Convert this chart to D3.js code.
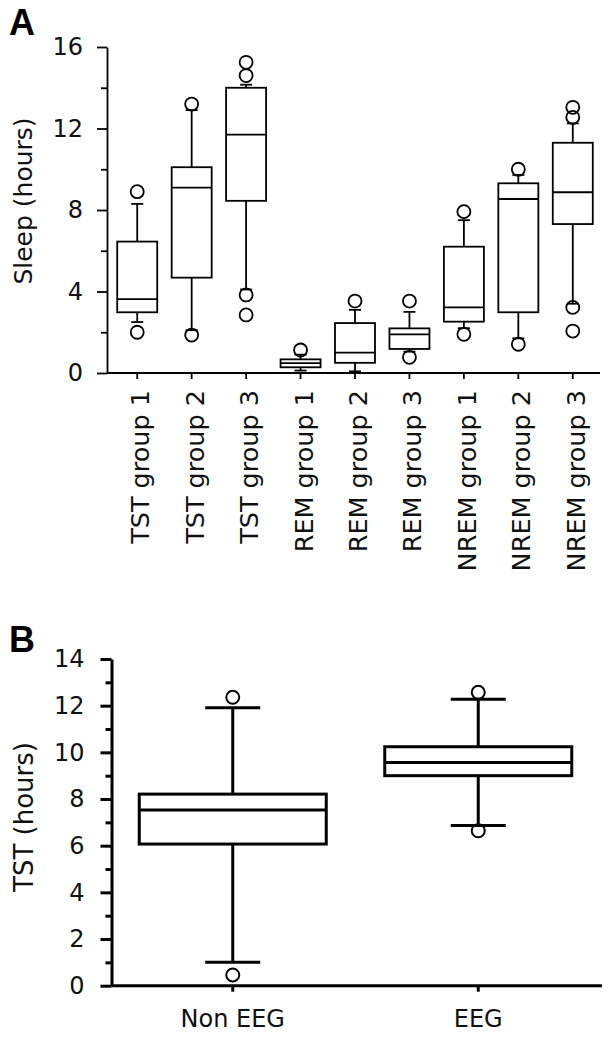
<!DOCTYPE html>
<html>
<head>
<meta charset="utf-8">
<script src="https://cdn.jsdelivr.net/npm/d3@7"></script>
<style>
  body { margin: 0; background: #fff; }
  svg { display: block; }
  text { font-family: "DejaVu Sans", Verdana, sans-serif; fill: #111; }
  .panel-label { font-family: "Liberation Sans", Arial, sans-serif; font-weight: bold; font-size: 36px; fill: #000; }
</style>
</head>
<body>
<svg id="chart" width="615" height="1037"></svg>
<script>
// Panel A data (hours)
const groupsA = ["TST group 1", "TST group 2", "TST group 3", "REM group 1", "REM group 2", "REM group 3", "NREM group 1", "NREM group 2", "NREM group 3"];
const lowA    = [2.5, 2.1, 4.1, 0.12, 0.08, 1.05, 2.2, 1.7, 3.4];
const q1A     = [2.98, 4.68, 8.45, 0.28, 0.5, 1.18, 2.52, 2.98, 7.31];
const medA    = [3.63, 9.1, 11.7, 0.48, 1.0, 1.9, 3.22, 8.54, 8.87];
const q3A     = [6.45, 10.1, 14.0, 0.67, 2.45, 2.19, 6.2, 9.31, 11.3];
const highA   = [8.3, 12.9, 14.15, 0.9, 3.1, 3.0, 7.5, 9.72, 12.25];
const outA    = [[2.0, 8.9], [1.86, 13.2], [2.85, 3.83, 14.6, 15.25], [1.13], [3.53], [0.77, 3.53], [1.9, 7.92], [1.41, 10.0], [2.06, 3.22, 12.55, 13.04]];
const majorA  = [0, 4, 8, 12, 16];
const minorA  = [2, 6, 10, 14];

// Panel B data (hours)
const groupsB = ["Non EEG", "EEG"];
const lowB    = [1.0, 6.86];
const q1B     = [6.07, 9.0];
const medB    = [7.53, 9.57];
const q3B     = [8.21, 10.24];
const highB   = [11.91, 12.28];
const outB    = [[0.46, 12.36], [6.64, 12.57]];
const majorB  = [0, 2, 4, 6, 8, 10, 12, 14];
const minorB  = [1, 3, 5, 7, 9, 11, 13];

const svg = d3.select("#chart");

function zipBoxes(groups, low, q1, med, q3, high, out) {
  return groups.map((g, i) => ({ g, low: low[i], q1: q1[i], med: med[i], q3: q3[i], high: high[i], out: out[i] }));
}

// Helper: draw one box plot panel
function drawPanel(cfg) {
  const { data, x, y, axisX, xEnd, sw, boxW, capW, r, major, minor, majorSize, minorSize, tickFont, labelX } = cfg;
  const g = svg.append("g");

  // y axis
  const yAxis = g.append("g").attr("transform", `translate(${axisX},0)`)
    .call(d3.axisLeft(y).tickValues(major).tickSize(majorSize).tickSizeOuter(0).tickPadding(labelX));
  yAxis.select(".domain").attr("stroke-width", sw).attr("stroke", "#000");
  yAxis.selectAll(".tick line").attr("stroke-width", sw).attr("stroke", "#000");
  yAxis.selectAll(".tick text").style("font-size", tickFont + "px").attr("fill", "#111")
    .style("font-family", "'DejaVu Sans', Verdana, sans-serif");
  g.append("g").attr("transform", `translate(${axisX},0)`)
    .call(d3.axisLeft(y).tickValues(minor).tickSize(minorSize).tickSizeOuter(0).tickFormat(""))
    .call(a => a.select(".domain").remove())
    .selectAll(".tick line").attr("stroke-width", sw).attr("stroke", "#000");

  // x axis line + ticks
  const y0 = y(0);
  g.append("line").attr("x1", axisX).attr("x2", xEnd).attr("y1", y0).attr("y2", y0)
    .attr("stroke", "#000").attr("stroke-width", sw);
  const cx = d => x(d.g) + x.bandwidth() / 2;
  g.selectAll(".xtick").data(data).join("line")
    .attr("x1", cx).attr("x2", cx).attr("y1", y0).attr("y2", y0 + cfg.xTick)
    .attr("stroke", "#000").attr("stroke-width", sw);

  const boxes = g.selectAll(".box").data(data).join("g");
  // whiskers
  boxes.append("line").attr("x1", cx).attr("x2", cx).attr("y1", d => y(d.q3)).attr("y2", d => y(d.high))
    .attr("stroke", "#000").attr("stroke-width", sw);
  boxes.append("line").attr("x1", cx).attr("x2", cx).attr("y1", d => y(d.q1)).attr("y2", d => y(d.low))
    .attr("stroke", "#000").attr("stroke-width", sw);
  ["high", "low"].forEach(k => {
    boxes.append("line").attr("x1", d => cx(d) - capW / 2).attr("x2", d => cx(d) + capW / 2)
      .attr("y1", d => y(d[k])).attr("y2", d => y(d[k]))
      .attr("stroke", "#000").attr("stroke-width", sw);
  });
  // box
  boxes.append("rect").attr("x", d => cx(d) - boxW / 2).attr("width", boxW)
    .attr("y", d => y(d.q3)).attr("height", d => y(d.q1) - y(d.q3))
    .attr("fill", "#fff").attr("stroke", "#000").attr("stroke-width", sw);
  boxes.append("line").attr("x1", d => cx(d) - boxW / 2).attr("x2", d => cx(d) + boxW / 2)
    .attr("y1", d => y(d.med)).attr("y2", d => y(d.med))
    .attr("stroke", "#000").attr("stroke-width", sw);
  // outliers
  boxes.selectAll("circle").data(d => d.out.map(v => ({ v, x: cx(d) }))).join("circle")
    .attr("cx", d => d.x).attr("cy", d => y(d.v)).attr("r", r)
    .attr("fill", "none").attr("stroke", "#000").attr("stroke-width", cfg.cw);
  return g;
}

// Panel A
const dataA = zipBoxes(groupsA, lowA, q1A, medA, q3A, highA, outA);
const xA = d3.scaleBand().domain(groupsA).range([110, 600]);
const yA = d3.scaleLinear().domain([0, 16]).range([373, 47]);
const gA = drawPanel({ data: dataA, x: xA, y: yA, axisX: 107, xEnd: 600, sw: 1.8, boxW: 40, capW: 12, r: 6.5, cw: 1.8,
  major: majorA, minor: minorA, majorSize: 10, minorSize: 6, tickFont: 24, labelX: 14, xTick: 6 });

gA.selectAll(".xlab").data(groupsA).join("text")
  .attr("transform", d => `translate(${xA(d) + xA.bandwidth() / 2 + 12},390) rotate(-90)`)
  .attr("text-anchor", "end")
  .style("font-size", "25.5px")
  .text(d => d);

svg.append("text").attr("transform", "translate(32,201) rotate(-90)")
  .attr("text-anchor", "middle").style("font-size", "25px").text("Sleep (hours)");
svg.append("text").attr("class", "panel-label").attr("x", 9).attr("y", 35).text("A");

// Panel B
const dataB = zipBoxes(groupsB, lowB, q1B, medB, q3B, highB, outB);
const xB = d3.scaleBand().domain(groupsB).range([110, 601]);
const yB = d3.scaleLinear().domain([0, 14]).range([985.7, 659]);
const gB = drawPanel({ data: dataB, x: xB, y: yB, axisX: 111.5, xEnd: 602, sw: 3, boxW: 187, capW: 55, r: 6.5, cw: 2,
  major: majorB, minor: minorB, majorSize: 11, minorSize: 6, tickFont: 24, labelX: 16, xTick: 6 });

gB.selectAll(".xlab").data(groupsB).join("text")
  .attr("x", d => xB(d) + xB.bandwidth() / 2).attr("y", 1027)
  .attr("text-anchor", "middle")
  .style("font-size", "24px")
  .text(d => d);

svg.append("text").attr("transform", "translate(33,817) rotate(-90)")
  .attr("text-anchor", "middle").style("font-size", "26px").text("TST (hours)");
svg.append("text").attr("class", "panel-label").attr("x", 9).attr("y", 652).text("B");
</script>
</body>
</html>
